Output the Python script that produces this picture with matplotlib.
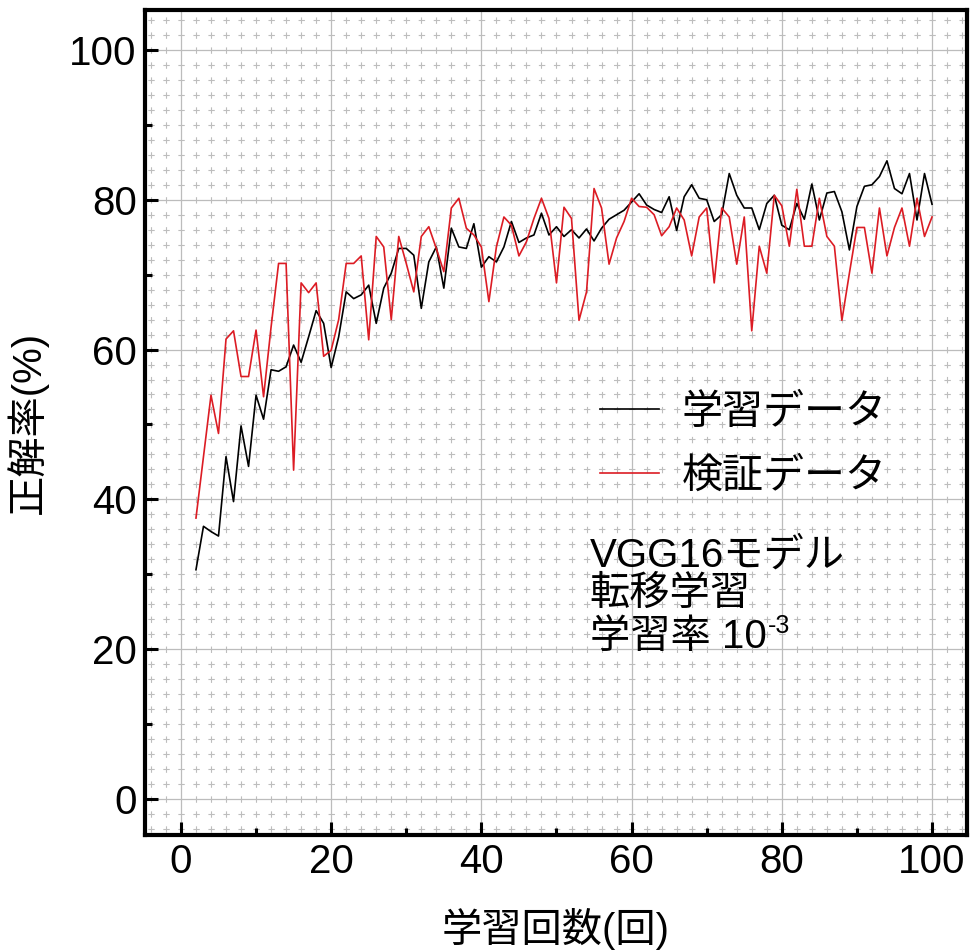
import numpy as np
import matplotlib
matplotlib.use('Agg')
import matplotlib.pyplot as plt
from matplotlib.ticker import MultipleLocator

# ---------------------------------------------------------------
# データ
# ---------------------------------------------------------------
epochs = np.arange(2, 101)

train_acc = [
    30.6, 36.4, 35.7, 35.1, 45.7, 39.7, 49.8, 44.4, 53.9, 50.7,   # 2-11
    57.3, 57.1, 57.7, 60.6, 58.3, 61.7, 65.2, 63.5, 57.6, 61.7,   # 12-21
    67.7, 66.8, 67.3, 68.6, 63.5, 68.2, 70.2, 73.5, 73.5, 72.6,   # 22-31
    65.5, 71.7, 73.7, 68.2, 76.2, 73.7, 73.5, 76.8, 71.0, 72.4,   # 32-41
    71.7, 73.7, 77.1, 74.3, 74.9, 75.3, 78.2, 75.3, 76.4, 75.1,   # 42-51
    76.0, 74.9, 76.1, 74.5, 76.2, 77.4, 78.0, 78.6, 79.7, 80.8,   # 52-61
    79.3, 78.7, 78.3, 80.4, 75.9, 80.4, 82.0, 80.2, 80.0, 77.1,   # 62-71
    78.0, 83.5, 80.6, 78.9, 78.9, 76.0, 79.5, 80.6, 76.6, 76.0,   # 72-81
    79.5, 77.4, 82.1, 77.3, 80.9, 81.1, 78.4, 73.3, 79.1, 81.8,   # 82-91
    82.0, 83.1, 85.2, 81.5, 80.8, 83.5, 77.3, 83.5, 79.4,         # 92-100
]

val_acc = [
    37.5, 45.7, 53.9, 48.8, 61.4, 62.5, 56.4, 56.4, 62.6, 53.7,   # 2-11
    63.0, 71.5, 71.5, 43.9, 68.9, 67.6, 68.9, 59.1, 59.9, 64.0,   # 12-21
    71.5, 71.5, 72.5, 61.3, 75.1, 73.7, 64.0, 75.1, 71.5, 67.7,   # 22-31
    75.1, 76.4, 73.5, 70.4, 78.9, 80.2, 76.2, 75.3, 73.7, 66.4,   # 32-41
    73.7, 77.7, 76.6, 72.5, 74.4, 77.5, 80.2, 77.5, 68.9, 79.0,   # 42-51
    77.5, 63.9, 67.7, 81.5, 78.9, 71.4, 74.9, 77.1, 80.2, 79.1,   # 52-61
    79.0, 78.0, 75.2, 76.4, 78.9, 77.3, 72.5, 77.7, 78.9, 68.9,   # 62-71
    78.9, 77.7, 71.4, 77.7, 62.5, 73.8, 70.2, 80.6, 79.2, 73.8,   # 72-81
    81.4, 73.8, 73.8, 80.2, 75.1, 73.8, 63.9, 70.2, 76.3, 76.3,   # 82-91
    70.2, 78.9, 72.5, 76.3, 78.9, 73.8, 80.2, 75.1, 77.7,         # 92-100
]

legend_labels = ['学習データ', '検証データ']
note_lines = ['VGG16モデル', '転移学習', '学習率 10']
note_exp = '-3'

# ---------------------------------------------------------------
# スタイル
# ---------------------------------------------------------------
plt.rcParams['font.family'] = ['Liberation Sans', 'Noto Sans CJK JP']
plt.rcParams['lines.scale_dashes'] = False

FS = 29
XLIM = (-4.79, 104.66)
YLIM = (-4.81, 105.34)
AX_RECT = [0.1493, 0.1211, 0.8466, 0.8684]
FIG_W, FIG_H = 9.71, 9.5

fig = plt.figure(figsize=(FIG_W, FIG_H), dpi=100)
ax = fig.add_axes(AX_RECT)

# グリッド: 20ごとに実線, 2ごとに破線 (破線は交点で十字になるように)
pt_x = AX_RECT[2] * FIG_W * 72 / (XLIM[1] - XLIM[0])
pt_y = AX_RECT[3] * FIG_H * 72 / (YLIM[1] - YLIM[0])
dash = 4.6
for v in np.arange(-6, 108, 2):
    if v % 20 == 0:
        ax.axvline(v, color='#bcbcbc', lw=0.9, zorder=0)
        ax.axhline(v, color='#bcbcbc', lw=0.9, zorder=0)
        continue
    ax.plot([v, v], [-6, 106], color='#bdbdbd', lw=0.8, zorder=0,
            linestyle=(dash / 2, (dash, 2 * pt_y - dash)))
    ax.plot([-6, 106], [v, v], color='#bdbdbd', lw=0.8, zorder=0,
            linestyle=(dash / 2, (dash, 2 * pt_x - dash)))
ax.set_xlim(*XLIM)
ax.set_ylim(*YLIM)

# データ
ax.plot(epochs, train_acc, color='black', lw=1.2, label=legend_labels[0], zorder=3)
ax.plot(epochs, val_acc, color='#dc1c24', lw=1.2, label=legend_labels[1], zorder=4)

# 軸
for s in ax.spines.values():
    s.set_linewidth(3)
    s.set_color('black')
ax.xaxis.set_major_locator(MultipleLocator(20))
ax.xaxis.set_minor_locator(MultipleLocator(10))
ax.yaxis.set_major_locator(MultipleLocator(20))
ax.yaxis.set_minor_locator(MultipleLocator(10))
ax.tick_params(which='both', direction='in', width=2.2, top=False, right=False,
               labelsize=FS, pad=6)
ax.tick_params(which='major', length=9.5)
ax.tick_params(which='minor', length=5)

ax.set_xlabel('学習回数(回)', fontsize=FS)
ax.set_ylabel('正解率(%)', fontsize=FS)
ax.xaxis.set_label_coords(0.5, -0.088)
ax.yaxis.set_label_coords(-0.118, 0.5)

# 凡例
ax.legend(loc='upper left', bbox_to_anchor=(0.5535, 0.535), frameon=False,
          fontsize=FS + 0.5, handlelength=1.45, handletextpad=0.55,
          labelspacing=0.62, borderpad=0, borderaxespad=0)

# 注記
note_y = [0.325, 0.279, 0.227]
for line, y in zip(note_lines, note_y):
    t = ax.text(0.541, y, line, transform=ax.transAxes, fontsize=FS,
                ha='left', va='baseline')
ax.annotate(note_exp, xy=(1, 1), xycoords=t, xytext=(1, -6),
            textcoords='offset points', fontsize=18, ha='left', va='center')

fig.savefig('out.png', dpi=100)
